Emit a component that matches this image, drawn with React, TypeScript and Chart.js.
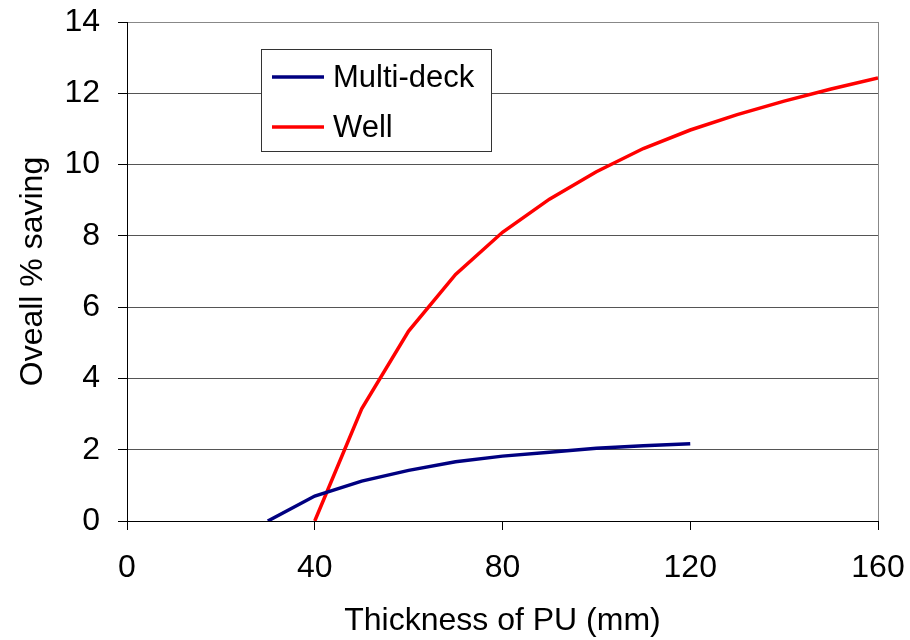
import React, { useEffect, useRef } from "react";
import { Chart, registerables } from "chart.js";

Chart.register(...registerables);

const thicknessMulti = [30, 40, 50, 60, 70, 80, 90, 100, 110, 120];
const savingMulti = [0, 0.7, 1.12, 1.42, 1.66, 1.82, 1.93, 2.04, 2.11, 2.17];
const thicknessWell = [40, 50, 60, 70, 80, 90, 100, 110, 120, 130, 140, 150, 160];
const savingWell = [0, 3.15, 5.33, 6.92, 8.1, 9.03, 9.8, 10.45, 10.97, 11.4, 11.78, 12.12, 12.43];
const seriesNames = ["Multi-deck", "Well"];
const seriesColors = ["#000080", "#FF0000"];
const xTitle = "Thickness of PU (mm)";
const yTitle = "Oveall % saving";

const FONT = "'Liberation Sans', Arial, sans-serif";

const framePlugin = {
  id: "frame",
  afterDraw(chart: any) {
    const { ctx, chartArea } = chart;
    ctx.save();
    ctx.strokeStyle = "#888888";
    ctx.lineWidth = 1;
    ctx.beginPath();
    ctx.moveTo(Math.round(chartArea.right) + 0.5, chartArea.top);
    ctx.lineTo(Math.round(chartArea.right) + 0.5, chartArea.bottom);
    ctx.stroke();
    const bx = chartArea.left + 134;
    const by = chartArea.top + 27;
    const bw = 230;
    const bh = 102;
    ctx.fillStyle = "#ffffff";
    ctx.fillRect(bx, by, bw, bh);
    ctx.strokeStyle = "#333333";
    ctx.strokeRect(bx + 0.5, by + 0.5, bw, bh);
    ctx.font = `31px ${FONT}`;
    ctx.textBaseline = "middle";
    ctx.textAlign = "left";
    seriesNames.forEach((name, i) => {
      const cy = by + 28 + i * 50;
      ctx.strokeStyle = seriesColors[i];
      ctx.lineWidth = 3.5;
      ctx.beginPath();
      ctx.moveTo(bx + 11, cy);
      ctx.lineTo(bx + 63, cy);
      ctx.stroke();
      ctx.fillStyle = "#000000";
      ctx.fillText(name, bx + 72, cy + 1);
    });
    ctx.restore();
  },
};

export default function App() {
  const ref = useRef<HTMLCanvasElement>(null);
  useEffect(() => {
    if (!ref.current) return;
    const chart = new Chart(ref.current, {
      type: "line",
      data: {
        datasets: [
          {
            label: seriesNames[0],
            data: thicknessMulti.map((x, i) => ({ x, y: savingMulti[i] })),
            borderColor: seriesColors[0],
            borderWidth: 3.5,
            pointRadius: 0,
            tension: 0,
            fill: false,
          },
          {
            label: seriesNames[1],
            data: thicknessWell.map((x, i) => ({ x, y: savingWell[i] })),
            borderColor: seriesColors[1],
            borderWidth: 3.5,
            pointRadius: 0,
            tension: 0,
            fill: false,
          },
        ],
      },
      options: {
        responsive: false,
        animation: false,
        layout: { padding: { top: 22, right: 32, left: 0, bottom: 0 } },
        plugins: { legend: { display: false }, tooltip: { enabled: false } },
        scales: {
          x: {
            type: "linear",
            min: 0,
            max: 160,
            afterFit: (s: any) => {
              s.height = 119;
              s.paddingLeft = 0;
              s.paddingRight = 0;
            },
            ticks: {
              stepSize: 40,
              color: "#000",
              padding: 19,
              maxRotation: 0,
              font: { family: FONT, size: 32 },
            },
            grid: {
              drawOnChartArea: false,
              drawTicks: true,
              tickLength: 9,
              color: "#000",
            },
            border: { display: true, color: "#000", width: 1 },
            title: {
              display: true,
              text: xTitle,
              color: "#000",
              font: { family: FONT, size: 32 },
              padding: { top: 0, bottom: 0 },
            },
          },
          y: {
            type: "linear",
            min: 0,
            max: 14,
            afterFit: (s: any) => {
              s.width = 127;
              s.paddingTop = 0;
              s.paddingBottom = 0;
            },
            ticks: {
              stepSize: 2,
              color: "#000",
              padding: 18,
              font: { family: FONT, size: 32 },
            },
            grid: {
              drawOnChartArea: true,
              drawTicks: true,
              tickLength: 9,
              color: (c: any) => (c.tick && c.tick.value === 14 ? "#888888" : "#555555"),
              tickColor: "#000",
            },
            border: { display: true, color: "#000", width: 1 },
            title: {
              display: true,
              text: yTitle,
              color: "#000",
              font: { family: FONT, size: 32 },
              padding: { top: 14, bottom: 0 },
            },
          },
        },
      },
      plugins: [framePlugin],
    });
    return () => chart.destroy();
  }, []);
  return (
    <div style={{ position: "fixed", left: 0, top: 0, width: 910, height: 640, background: "#fff" }}>
      <canvas ref={ref} width={910} height={640} style={{ width: 910, height: 640 }} />
    </div>
  );
}
